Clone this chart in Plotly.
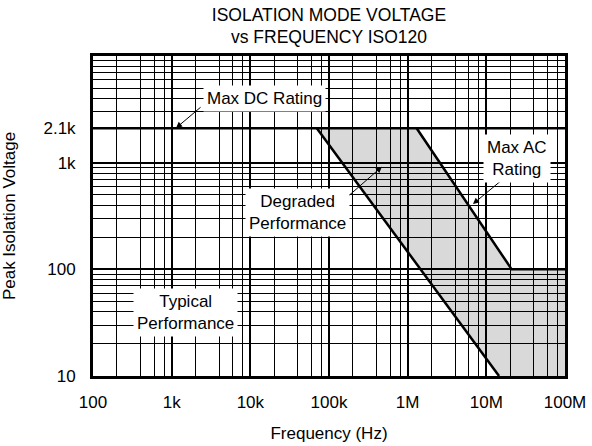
import plotly.graph_objects as go

# ---- data ----
x_ticks = [100, 1e3, 1e4, 1e5, 1e6, 1e7, 1e8]
x_ticktext = ["100", "1k", "10k", "100k", "1M", "10M", "100M"]
y_ticks = [10, 100, 1000, 2100]
y_ticktext = ["10", "100", "1k", "2.1k"]

# Max DC rating (flat line)
dc_freq = [100, 1e8]
dc_volt = [2100, 2100]

# Typical performance limit (lower edge of degraded region)
typ_freq = [7.0e4, 1.45e7]
typ_volt = [2100, 10]

# Max AC rating
ac_freq = [1.3e6, 2.1e7, 1e8]
ac_volt = [2100, 100, 100]

# degraded region polygon
deg_freq = [7.0e4, 1.3e6, 2.1e7, 1e8, 1e8, 1.45e7, 7.0e4]
deg_volt = [2100, 2100, 100, 100, 10, 10, 2100]

# minor grid values
x_minor = [m * 10 ** d for d in range(2, 8) for m in (2, 4, 6, 8)]
y_minor = [m * 10 ** d for d in range(1, 4) for m in range(2, 10) if m * 10 ** d != 2000]

FONT = "Liberation Sans, Arial, sans-serif"
FS = 17

fig = go.Figure()

fig.add_trace(go.Scatter(
    x=deg_freq, y=deg_volt, mode="lines", fill="toself",
    fillcolor="rgba(0,0,0,0.15)", line=dict(width=0), hoverinfo="skip",
    showlegend=False))

fig.add_trace(go.Scatter(x=dc_freq, y=dc_volt, mode="lines",
                         line=dict(color="black", width=2.5), showlegend=False))
fig.add_trace(go.Scatter(x=typ_freq, y=typ_volt, mode="lines",
                         line=dict(color="black", width=2.5), showlegend=False))
fig.add_trace(go.Scatter(x=ac_freq, y=ac_volt, mode="lines",
                         line=dict(color="black", width=2.5), showlegend=False))


def label(text, xp, yp):
    fig.add_annotation(text=text, xref="paper", yref="paper", x=xp, y=yp,
                       xanchor="center", yanchor="middle",
                       showarrow=False, align="center", bgcolor="white", borderpad=3,
                       font=dict(family=FONT, size=FS, color="black"))


def arrow(xp, yp, ax, ay):
    fig.add_annotation(text="", xref="paper", yref="paper", x=xp, y=yp,
                       ax=ax, ay=ay, showarrow=True, arrowhead=2, arrowsize=1.2,
                       arrowwidth=1, arrowcolor="black", standoff=0, startstandoff=0)


arrow(0.176, 0.775, 26, -22)
arrow(0.805, 0.5375, 29, -24)
arrow(0.612, 0.654, -40, 35)

label("Max DC Rating", 0.364, 0.866)
label("Max AC<br>Rating", 0.899, 0.681)
label("Degraded<br>Performance", 0.434, 0.511)
label("Typical<br>Performance", 0.195, 0.197)

axis_common = dict(
    type="log", showline=True, mirror=True, linewidth=3, linecolor="black",
    showgrid=True, gridcolor="black", gridwidth=2, ticks="", zeroline=False,
    tickfont=dict(family=FONT, size=FS, color="black"),
)

fig.update_xaxes(
    **axis_common, range=[2, 8], tickmode="array", tickvals=x_ticks, ticktext=x_ticktext,
    minor=dict(tickmode="array", tickvals=x_minor, showgrid=True, gridcolor="black",
               gridwidth=1, ticks=""),
    title=dict(text="Frequency (Hz)", font=dict(family=FONT, size=FS, color="black"),
               standoff=16),
    ticklabelstandoff=9,
)
fig.update_yaxes(
    **axis_common, range=[1, 4], tickmode="array", tickvals=y_ticks, ticktext=y_ticktext,
    minor=dict(tickmode="array", tickvals=y_minor, showgrid=True, gridcolor="black",
               gridwidth=1, ticks=""),
    title=dict(text="Peak Isolation Voltage", font=dict(family=FONT, size=FS, color="black"),
               standoff=24),
    ticklabelstandoff=11,
)

fig.update_layout(
    width=592, height=446,
    margin=dict(l=93, r=27, t=56, b=70, autoexpand=False),
    paper_bgcolor="white", plot_bgcolor="white",
    title=dict(text="ISOLATION MODE VOLTAGE<br>vs FREQUENCY ISO120",
               x=(93 + 565) / 2 / 592, xanchor="center", y=1 - 20.7 / 446, yanchor="top",
               font=dict(family=FONT, size=17.5, color="black")),
    showlegend=False,
)

fig.write_html("out.html", config={"displayModeBar": False},
               post_script="document.body.style.margin='0';")
